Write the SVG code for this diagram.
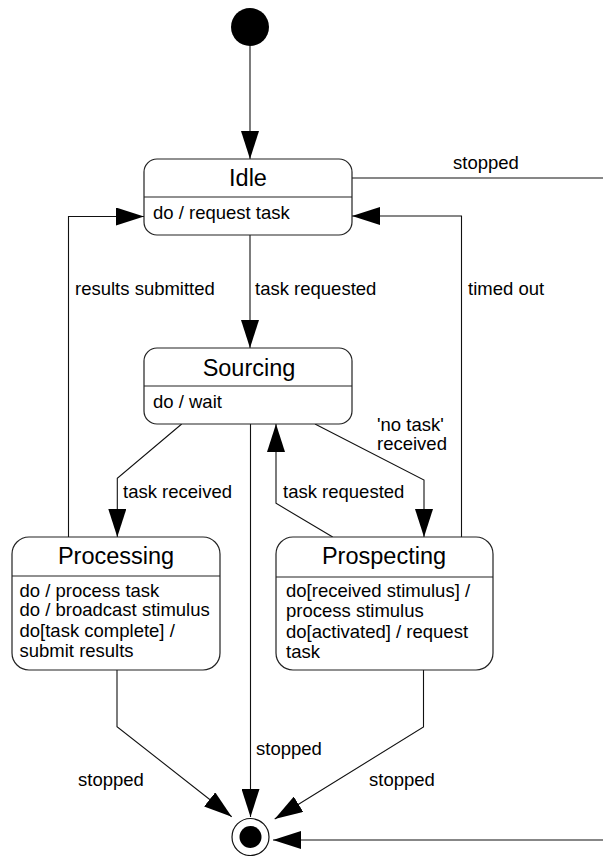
<svg xmlns="http://www.w3.org/2000/svg" width="603" height="856" viewBox="0 0 603 856">
<style>
.box{fill:#fff;stroke:#222;stroke-width:1.2}
.div{stroke:#222;stroke-width:1.2}
.title{font-family:"Liberation Sans",Arial,sans-serif;font-size:23.5px;fill:#000;text-anchor:middle}
.body{font-family:"Liberation Sans",Arial,sans-serif;font-size:18.5px;fill:#000}
.lbl{font-family:"Liberation Sans",Arial,sans-serif;font-size:18.5px;fill:#000}
.edge{fill:none;stroke:#111;stroke-width:1.1}
</style>
<defs>
<marker id="arr" markerUnits="userSpaceOnUse" viewBox="0 0 28 18" markerWidth="28" markerHeight="18" refX="28" refY="9" orient="auto">
<path d="M0,0 L28,9 L0,18 z" fill="#000"/>
</marker>
</defs>
<rect width="603" height="856" fill="#fff"/>
<g id="connectors">
<path class="edge" d="M250,46 L250,159" marker-end="url(#arr)"/>
<path class="edge" d="M250,235 L250,348" marker-end="url(#arr)"/>
<path class="edge" d="M352,178 L603,178"/>
<path class="edge" d="M461.5,537 L461.5,216 L352,216" marker-end="url(#arr)"/>
<path class="edge" d="M68.5,537 L68.5,216.5 L144,216.5" marker-end="url(#arr)"/>
<path class="edge" d="M181.7,424 L117.3,478.3 L117.3,537" marker-end="url(#arr)"/>
<path class="edge" d="M315,424 L424,480 L424,537" marker-end="url(#arr)"/>
<path class="edge" d="M332.7,537 L276,503.3 L276,424" marker-end="url(#arr)"/>
<path class="edge" d="M250.5,424 L250.5,817" marker-end="url(#arr)"/>
<path class="edge" d="M117,670 L117,726.7 L231.7,816.7" marker-end="url(#arr)"/>
<path class="edge" d="M423.5,670 L423.5,727 L274.7,819" marker-end="url(#arr)"/>
<path class="edge" d="M603,840 L273,840" marker-end="url(#arr)"/>
<text class="lbl" x="453" y="169">stopped</text>
<text class="lbl" x="255" y="295">task requested</text>
<text class="lbl" x="468" y="295">timed out</text>
<text class="lbl" x="75" y="295">results submitted</text>
<text class="lbl" x="123" y="498">task received</text>
<text class="lbl" x="283" y="498">task requested</text>
<text class="lbl" x="377" y="431">'no task'</text>
<text class="lbl" x="377" y="450">received</text>
<text class="lbl" x="256" y="755">stopped</text>
<text class="lbl" x="78" y="786">stopped</text>
<text class="lbl" x="369" y="786">stopped</text>
</g>
<g id="initial">
<circle cx="250" cy="27" r="19" fill="#000"/>
</g>
<g id="idle">
<rect class="box" x="144" y="159" width="208" height="76" rx="13" ry="13"/>
<line class="div" x1="144" y1="197" x2="352" y2="197"/>
<text class="title" x="248" y="186">Idle</text>
<text class="body" x="153" y="219">do / request task</text>
</g>
<g id="sourcing">
<rect class="box" x="144" y="348" width="208" height="76" rx="13" ry="13"/>
<line class="div" x1="144" y1="386" x2="352" y2="386"/>
<text class="title" x="249" y="376">Sourcing</text>
<text class="body" x="153" y="408">do / wait</text>
</g>
<g id="processing">
<rect class="box" x="12" y="537" width="208" height="133" rx="17" ry="17"/>
<line class="div" x1="12" y1="576" x2="220" y2="576"/>
<text class="title" x="116" y="564">Processing</text>
<text class="body" x="19.5" y="597">do / process task</text>
<text class="body" x="19.5" y="616">do / broadcast stimulus</text>
<text class="body" x="19.5" y="637">do[task complete] /</text>
<text class="body" x="19.5" y="657">submit results</text>
</g>
<g id="prospecting">
<rect class="box" x="276" y="537" width="217" height="133" rx="17" ry="17"/>
<line class="div" x1="276" y1="577" x2="493" y2="577"/>
<text class="title" x="384" y="564">Prospecting</text>
<text class="body" x="286" y="597">do[received stimulus] /</text>
<text class="body" x="286" y="617">process stimulus</text>
<text class="body" x="286" y="638">do[activated] / request</text>
<text class="body" x="286" y="658">task</text>
</g>
<g id="final">
<circle cx="250.5" cy="837" r="18.5" fill="#fff" stroke="#111" stroke-width="1.2"/>
<circle cx="250.5" cy="837" r="11" fill="#000"/>
</g>
</svg>
